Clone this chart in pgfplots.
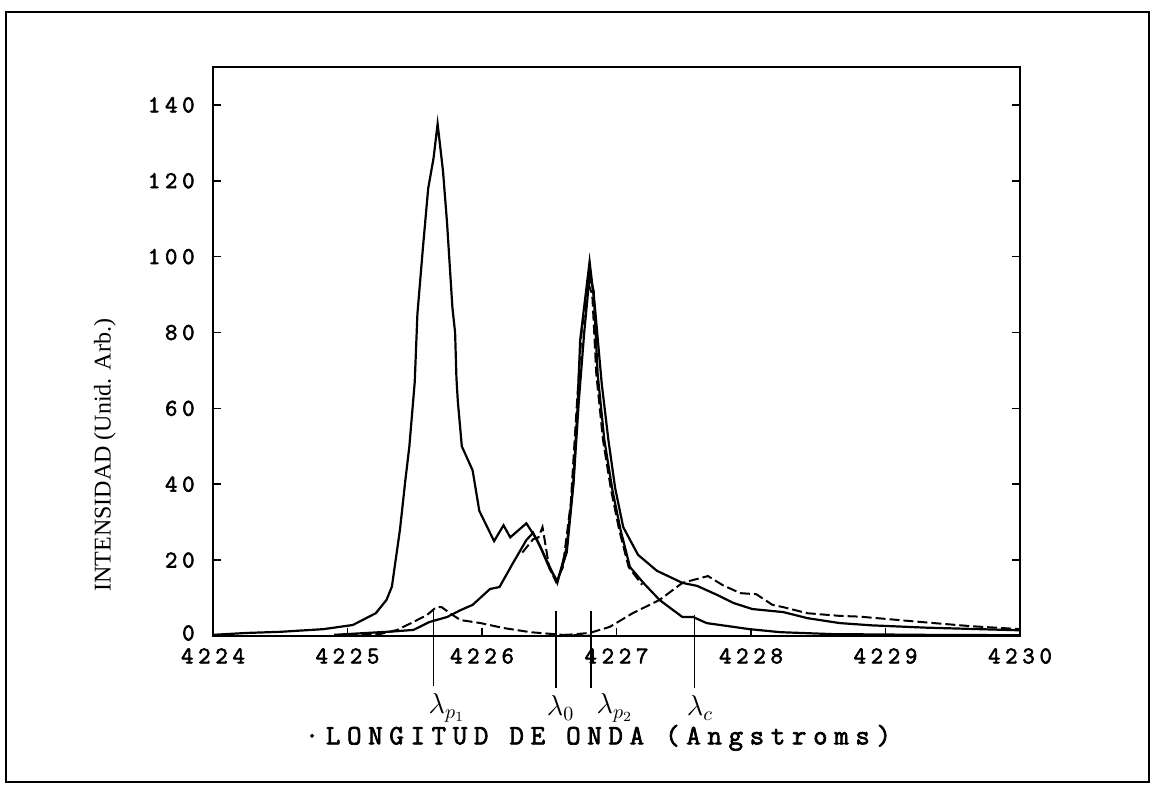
\documentclass[border=0pt]{standalone}
\usepackage{fontspec}
\setmainfont{Liberation Serif}
\newfontfamily\tickfont[LetterSpace=20, FakeBold=2.5]{Latin Modern Mono}
\newfontfamily\labfont[LetterSpace=24, FakeBold=2.5]{Latin Modern Mono}
\usepackage{pgfplots}
\pgfplotsset{compat=1.18}
\begin{document}
\begin{tikzpicture}
\useasboundingbox (-106.5pt,-74.5pt) rectangle (469.5pt,318pt);
\draw[line width=1.3pt] (-103.5pt,-73pt) rectangle (468pt,312pt);
\begin{axis}[
  at={(0,0)}, anchor=south west, scale only axis,
  width=403.5pt, height=284.5pt,
  xmin=4224, xmax=4230, ymin=0, ymax=150,
  xtick={4224,4225,4226,4227,4228,4229,4230},
  ytick={20,40,60,80,100,120,140},
  extra y ticks={0},
  extra y tick style={yticklabel style={yshift=1.5pt}},
  tick align=inside, xtick pos=left, ytick pos=both,
  major tick length=4pt,
  axis line style={line width=0.9pt},
  tick style={line width=0.8pt, black},
  clip=false,
  ticklabel style={font=\tickfont\fontsize{12}{13}\selectfont, inner sep=1pt},
  /pgf/number format/assume math mode=true,
  /pgf/number format/1000 sep={},
  xticklabel style={yshift=-5pt},
  yticklabel style={xshift=-8pt},
]
% main solid spectrum
\addplot[black, line width=1.1pt] coordinates {
(4224.00,0.3) (4224.25,0.8) (4224.50,1.1) (4224.82,1.8) (4225.04,2.9) (4225.21,6)
(4225.29,9.5) (4225.33,13) (4225.39,28) (4225.43,41) (4225.46,50) (4225.50,67)
(4225.52,85) (4225.56,102) (4225.60,118) (4225.64,126) (4225.67,135) (4225.71,122.6)
(4225.74,109) (4225.78,86.6) (4225.80,80) (4225.81,68) (4225.82,62) (4225.85,50)
(4225.93,43.7) (4225.98,33) (4226.09,25) (4226.16,29.2) (4226.21,26) (4226.33,29.7)
(4226.41,25.3) (4226.48,20) (4226.56,14) (4226.63,23.4) (4226.68,41) (4226.71,60)
(4226.73,78) (4226.80,98.7) (4226.84,86.6) (4226.89,66.6) (4226.94,51.6) (4226.99,39)
(4227.05,28.7) (4227.16,21.4) (4227.30,17.2) (4227.49,14) (4227.60,13.2) (4227.75,10.8)
(4227.87,8.7) (4228.01,7.1) (4228.24,6.3) (4228.42,4.7) (4228.66,3.4) (4228.90,2.8)
(4229.30,2.2) (4229.70,1.8) (4230.00,1.5)
};
% second solid component
\addplot[black, line width=1.1pt] coordinates {
(4224.90,0.3) (4225.34,1.2) (4225.49,1.6) (4225.61,3.7) (4225.74,5) (4225.84,6.8)
(4225.93,8.2) (4226.06,12.4) (4226.13,12.9) (4226.23,19.2) (4226.33,25.3) (4226.38,27.2)
(4226.44,23) (4226.50,18) (4226.56,14.5) (4226.63,22) (4226.68,40) (4226.72,62)
(4226.76,80) (4226.80,95) (4226.83,91) (4226.86,69) (4226.91,51.6) (4226.97,38.4)
(4227.03,28) (4227.10,18.2) (4227.20,14) (4227.32,9.5) (4227.49,5) (4227.57,5)
(4227.67,3.4) (4227.99,1.8) (4228.22,1) (4228.60,0.5) (4229.30,0.3) (4230.00,0.2)
};
% dashed component near second peak
\addplot[black, line width=1pt, dash pattern=on 5pt off 2pt] coordinates {
(4226.30,22) (4226.38,25.5) (4226.42,26) (4226.45,28.7) (4226.50,18) (4226.55,14.3)
(4226.60,18) (4226.66,35) (4226.70,58) (4226.74,80) (4226.79,93) (4226.82,90)
(4226.85,69) (4226.90,51.6) (4226.96,38.4) (4227.02,28) (4227.09,18.2) (4227.19,13.5)
};
% dashed small component near first peak
\addplot[black, line width=1pt, dash pattern=on 5pt off 2pt] coordinates {
(4225.00,0.2) (4225.24,0.5) (4225.37,1.6) (4225.49,3.7) (4225.59,5.5) (4225.66,7.6)
(4225.70,7.6) (4225.77,5.8) (4225.84,4.2) (4225.99,3.4) (4226.16,2.1) (4226.36,1.0)
(4226.60,0.3) (4226.80,0.1)
};
% dashed broad component
\addplot[black, line width=1pt, dash pattern=on 5pt off 2pt] coordinates {
(4226.60,0.2) (4226.80,0.8) (4226.95,2.4) (4227.12,6) (4227.32,9.5) (4227.49,14)
(4227.68,15.8) (4227.79,13.4) (4227.92,11.3) (4228.04,11) (4228.16,8.2) (4228.24,7.6)
(4228.42,6) (4228.66,5.3) (4228.81,5.1) (4229.26,3.7) (4229.63,2.6) (4230.00,1.8)
};
% marker lines
\addplot[black, line width=0.9pt] coordinates {(4225.64,6.8) (4225.64,-13.2)};
\addplot[black, line width=0.9pt] coordinates {(4226.55,6.6) (4226.55,-13.6)};
\addplot[black, line width=0.9pt] coordinates {(4226.81,6.6) (4226.81,-13.6)};
\addplot[black, line width=0.9pt] coordinates {(4227.58,5.5) (4227.58,-13.6)};
\node[anchor=west, font=\fontsize{14}{16}\selectfont, inner sep=0pt] at (axis cs:4225.60,-19) {$\lambda_{p_1}$};
\node[anchor=west, font=\fontsize{14}{16}\selectfont, inner sep=0pt] at (axis cs:4226.48,-19) {$\lambda_{0}$};
\node[anchor=west, font=\fontsize{14}{16}\selectfont, inner sep=0pt] at (axis cs:4226.85,-19) {$\lambda_{p_2}$};
\node[anchor=west, font=\fontsize{14}{16}\selectfont, inner sep=0pt] at (axis cs:4227.52,-19) {$\lambda_{c}$};
\node[font=\labfont\fontsize{14}{16}\selectfont] at (axis description cs:0.477,-0.179) {·LONGITUD DE ONDA (Angstroms)};
\node[rotate=90, font=\fontsize{12}{14}\selectfont] at (axis description cs:-0.134,0.318) {INTENSIDAD (Unid. Arb.)};
\end{axis}
\end{tikzpicture}
\end{document}
